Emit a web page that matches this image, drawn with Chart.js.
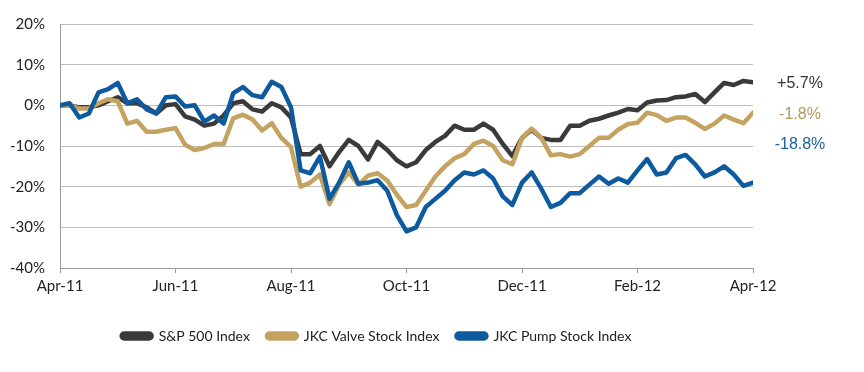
<!DOCTYPE html>
<html>
<head>
<meta charset="utf-8">
<script src="https://cdn.jsdelivr.net/npm/chart.js@4/dist/chart.umd.min.js"></script>
<style>
  html, body { margin: 0; padding: 0; background: #fff; }
  #wrap { width: 864px; height: 372px; position: relative; }
</style>
</head>
<body>
<div id="wrap"><canvas id="perf-chart" width="864" height="372"></canvas></div>
<script>
// tick labels every two months, 6 samples per month
const tickLabels = ['Apr-11', 'Jun-11', 'Aug-11', 'Oct-11', 'Dec-11', 'Feb-12', 'Apr-12'];
const perMonth = 6;

const seriesNames = ['S&P 500 Index', 'JKC Valve Stock Index', 'JKC Pump Stock Index'];
const endLabels   = ['+5.7%', '-1.8%', '-18.8%'];

const spx = [
  0, 0, -0.5, -0.5, 0, 1, 2, 0.5, 0.5, -0.5, -2, 0,
  0.3, -2.7, -3.5, -5, -4.5, -2.5, 0.5, 1, -1, -1.5, 0.5, -0.5,
  -3, -12, -12, -10, -15, -11.5, -8.5, -10, -13.3, -9, -11, -13.5,
  -15, -14, -11, -9, -7.5, -5, -6, -6, -4.5, -6, -9.5, -12.5,
  -8, -6, -8, -8.5, -8.5, -5, -5, -3.8, -3.3, -2.5, -1.8, -0.9,
  -1.2, 0.7, 1.2, 1.3, 2, 2.2, 2.8, 0.8, 3.2, 5.5, 5, 6, 5.7
];
const valve = [
  0, 0, -0.8, -0.8, 0.5, 1.5, 1, -4.5, -3.8, -6.5, -6.5, -6,
  -5.6, -9.7, -11, -10.5, -9.5, -9.5, -3.2, -2.3, -3.5, -6.2, -4.4, -8,
  -10.3, -20, -19, -17, -24.3, -19.5, -16.5, -19.5, -17.3, -16.7, -18.5, -22,
  -25, -24.5, -21, -17.5, -15, -13, -12, -9.5, -8.7, -10, -13.5, -14.5,
  -8, -5.7, -8, -12.3, -12, -12.6, -12, -10, -8, -8, -6, -4.6,
  -4.3, -1.8, -2.4, -3.8, -3, -3, -4.3, -5.8, -4.5, -2.5, -3.5, -4.4, -1.8
];
const pump = [
  0, 0.5, -3, -2, 3.2, 4, 5.5, 0.5, 1.5, -1, -2, 2,
  2.2, -0.3, 0, -4, -2.5, -4.5, 3, 4.5, 2.5, 2, 5.8, 4.5,
  -0.5, -16, -16.7, -12.6, -23, -19, -14, -19.3, -19, -18.4, -21, -27,
  -31, -30, -25, -23, -21, -18.4, -16.5, -17, -16, -18, -22.4, -24.5,
  -19, -16.5, -20.5, -25, -24, -21.6, -21.6, -19.5, -17.5, -19.3, -18, -19,
  -16, -13.2, -17, -16.5, -13, -12.2, -14.5, -17.5, -16.5, -15, -17, -19.8, -19
];

const colors     = ['#3a3a3a', '#c3a35f', '#0d5a9e'];
const textColors = ['#333333', '#b8975a', '#1d5f99'];

const toPoints = arr => arr.map((v, i) => ({ x: i / perMonth, y: v }));

const endLabelPlugin = {
  id: 'endLabels',
  afterDraw(chart) {
    const { ctx, chartArea } = chart;
    const offsets = [60, 91, 121];
    ctx.save();
    ctx.font = '16px "Liberation Sans", Arial, sans-serif';
    ctx.textAlign = 'center';
    ctx.textBaseline = 'middle';
    endLabels.forEach((t, i) => {
      ctx.fillStyle = textColors[i];
      ctx.fillText(t, chartArea.right + 47, chartArea.top + offsets[i]);
    });
    ctx.restore();
  }
};

const tickFont = { family: 'Lato, "Open Sans", sans-serif', size: 15 };

new Chart(document.getElementById('perf-chart'), {
  type: 'line',
  data: {
    datasets: [spx, valve, pump].map((arr, i) => ({
      label: seriesNames[i],
      data: toPoints(arr),
      borderColor: colors[i],
      backgroundColor: colors[i],
      borderWidth: 4.5,
      pointRadius: 0,
      tension: 0,
      borderJoinStyle: 'round',
      borderCapStyle: 'round',
      order: 2 - i,
    })),
  },
  options: {
    responsive: false,
    animation: false,
    layout: { padding: { left: 0, right: 111, top: 21, bottom: 19 } },
    plugins: {
      tooltip: { enabled: false },
      legend: {
        position: 'bottom',
        labels: {
          sort: (a, b) => a.datasetIndex - b.datasetIndex,
          boxWidth: 30,
          boxHeight: 5,
          useBorderRadius: true,
          borderRadius: 2.5,
          color: '#222',
          padding: 17,
          font: { family: 'Lato, "Open Sans", sans-serif', size: 14 },
        },
      },
    },
    scales: {
      x: {
        type: 'linear',
        min: 0,
        max: 12,
        afterFit: s => { s.height = 44; },
        border: { color: '#9a9a9a' },
        grid: { drawOnChartArea: false, tickLength: 5, color: '#9a9a9a' },
        ticks: {
          stepSize: 2,
          padding: 4,
          color: '#222',
          font: tickFont,
          maxRotation: 0,
          autoSkip: false,
          callback: v => tickLabels[v / 2],
        },
      },
      y: {
        min: -40,
        max: 20,
        afterFit: s => { s.width = 60; },
        border: { color: '#9a9a9a' },
        grid: { color: '#bdbdbd', drawTicks: false },
        ticks: {
          stepSize: 10,
          padding: 15,
          color: '#222',
          font: tickFont,
          callback: v => v + '%',
        },
      },
    },
  },
  plugins: [endLabelPlugin],
});
</script>
</body>
</html>
